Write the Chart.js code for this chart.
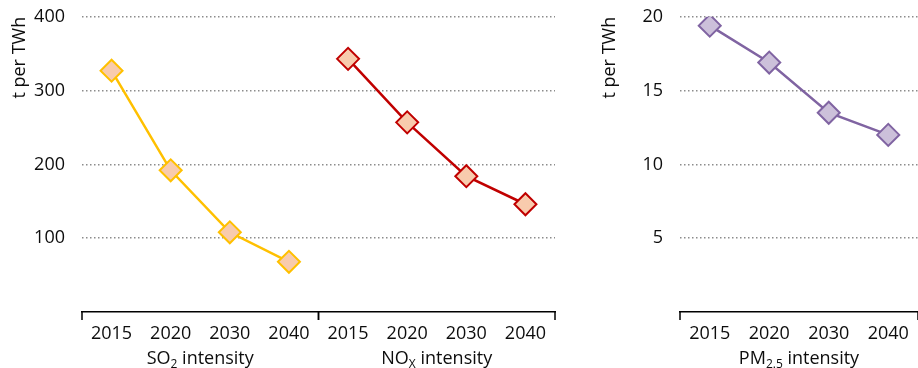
<!DOCTYPE html>
<html>
<head>
<meta charset="utf-8">
<script src="https://cdn.jsdelivr.net/npm/chart.js@4"></script>
<style>
  body { margin: 0; background: #fff; }
  #wrap { position: relative; width: 918px; height: 368px; overflow: hidden; }
  #left { position: absolute; left: 0; top: -11px; }
  #right { position: absolute; left: 590px; top: -11px; }
</style>
</head>
<body>
<div id="wrap">
  <canvas id="left" width="568" height="379"></canvas>
  <canvas id="right" width="341" height="379"></canvas>
</div>
<script>
// data
const years = ['2015', '2020', '2030', '2040'];
const so2Values = [327, 192, 108, 68];
const noxValues = [343, 257, 184, 146];
const pmValues = [19.4, 16.9, 13.5, 12.0];
const leftMax = 400, leftStep = 100;
const rightMax = 20, rightStep = 5;

const textColor = '#0d0d0d';
const gridColor = '#8c8c8c';
Chart.defaults.font.family = '"Open Sans", "Liberation Sans", sans-serif';
Chart.defaults.font.size = 18;
Chart.defaults.color = textColor;

const blanks = years.map(() => null);

// draws the group separators under the x axis and the group names (with subscripts)
const groupAxis = {
  id: 'groupAxis',
  afterDraw(chart, args, opts) {
    const ctx = chart.ctx;
    const x = chart.scales.x;
    const bottom = chart.chartArea.bottom;
    const half = (x.getPixelForValue(1) - x.getPixelForValue(0)) / 2;
    ctx.save();
    ctx.strokeStyle = '#000';
    ctx.lineWidth = 1.5;
    opts.groups.forEach(g => {
      const x0 = x.getPixelForValue(g.start) - half;
      const x1 = x.getPixelForValue(g.end) + half;
      [x0, x1].forEach(px => {
        ctx.beginPath();
        ctx.moveTo(px, bottom);
        ctx.lineTo(px, bottom + 8);
        ctx.stroke();
      });
      // label made of normal + subscript parts
      const cx = (x.getPixelForValue(g.start) + x.getPixelForValue(g.end)) / 2;
      const big = '18px "Open Sans", "Liberation Sans", sans-serif';
      const small = '12px "Open Sans", "Liberation Sans", sans-serif';
      let total = 0;
      g.parts.forEach(p => {
        ctx.font = p.sub ? small : big;
        total += ctx.measureText(p.text).width;
      });
      let px = cx - total / 2;
      ctx.fillStyle = textColor;
      ctx.textBaseline = 'alphabetic';
      ctx.textAlign = 'left';
      g.parts.forEach(p => {
        ctx.font = p.sub ? small : big;
        ctx.fillText(p.text, px, p.sub ? opts.y + 4 : opts.y);
        px += ctx.measureText(p.text).width;
      });
    });
    ctx.restore();
  }
};

function yScale(max, step, width) {
  return {
    min: 0,
    max: max,
    afterFit: s => { s.width = width; },
    border: { display: false, dash: [1.5, 2.5] },
    grid: {
      drawTicks: false,
      color: c => c.tick.value === 0 ? 'rgba(0,0,0,0)' : gridColor,
      lineWidth: 1.5
    },
    ticks: {
      stepSize: step,
      padding: 17,
      callback: v => v === 0 ? '' : v
    },
    title: {
      display: true,
      text: 't per TWh',
      align: 'end',
      padding: { top: 9, bottom: 0 },
      font: { size: 18 }
    }
  };
}

function xScale() {
  return {
    offset: true,
    afterFit: s => { s.height = 56; },
    grid: { display: false },
    border: { display: true, color: '#000', width: 1.5 },
    ticks: { padding: 3, maxRotation: 0, autoSkip: false }
  };
}

function lineSet(label, data, line, fill) {
  return {
    label: label,
    data: data,
    borderColor: line,
    backgroundColor: fill,
    borderWidth: 2.5,
    pointStyle: 'rectRot',
    pointRadius: 11,
    pointHoverRadius: 11,
    pointBorderWidth: 2,
    pointBackgroundColor: fill,
    pointBorderColor: line,
    spanGaps: false,
    tension: 0
  };
}

new Chart(document.getElementById('left'), {
  type: 'line',
  data: {
    labels: years.concat(years),
    datasets: [
      lineSet('SO2 intensity', so2Values.concat(blanks), '#ffc000', '#f8cbad'),
      lineSet('NOx intensity', blanks.concat(noxValues), '#c00000', '#f8cbad')
    ]
  },
  options: {
    responsive: false,
    animation: false,
    layout: { padding: { top: 5, right: 5, left: 0, bottom: 0 } },
    plugins: {
      legend: { display: false },
      tooltip: { enabled: false },
      groupAxis: {
        y: 375,
        groups: [
          { start: 0, end: 3, parts: [{ text: 'SO' }, { text: '2', sub: true }, { text: ' intensity' }] },
          { start: 4, end: 7, parts: [{ text: 'NO' }, { text: 'X', sub: true }, { text: ' intensity' }] }
        ]
      }
    },
    scales: {
      x: xScale(),
      y: yScale(leftMax, leftStep, 82)
    }
  },
  plugins: [groupAxis]
});

new Chart(document.getElementById('right'), {
  type: 'line',
  data: {
    labels: years,
    datasets: [
      lineSet('PM2.5 intensity', pmValues, '#8064a2', '#ccc0da')
    ]
  },
  options: {
    responsive: false,
    animation: false,
    layout: { padding: { top: 5, right: 0, left: 0, bottom: 0 } },
    plugins: {
      legend: { display: false },
      tooltip: { enabled: false },
      groupAxis: {
        y: 375,
        groups: [
          { start: 0, end: 3, parts: [{ text: 'PM' }, { text: '2.5', sub: true }, { text: ' intensity' }] }
        ]
      }
    },
    scales: {
      x: xScale(),
      y: yScale(rightMax, rightStep, 90)
    }
  },
  plugins: [groupAxis]
});
</script>
</body>
</html>
